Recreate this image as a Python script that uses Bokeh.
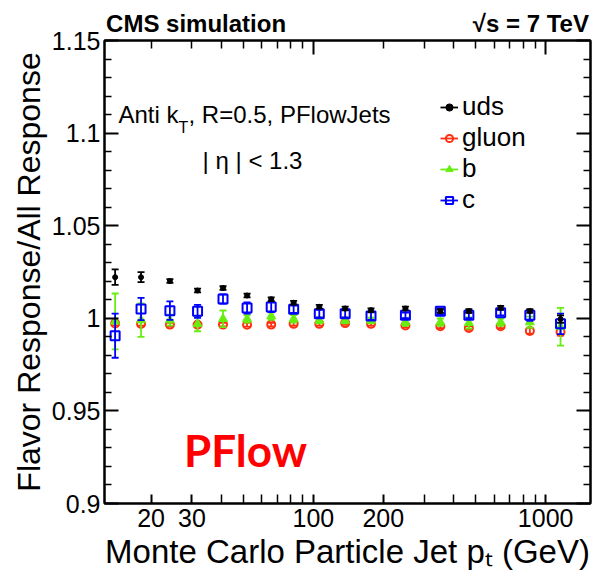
from bokeh.plotting import figure
from bokeh.models import (Range1d, FixedTicker, LogAxis, LinearAxis, Label,
                          Legend, LegendItem, ColumnDataSource)
from bokeh.embed import file_html
from bokeh.resources import INLINE

# ---------------- data ----------------
pt = [14.0, 18.1, 24.1, 31.7, 40.8, 51.8, 65.8, 82.2, 106, 137, 177, 249, 352, 467, 640, 855, 1159]

uds = [1.0222, 1.0222, 1.0201, 1.0150, 1.0163, 1.0123, 1.0103, 1.0084, 1.0062, 1.0053,
       1.0044, 1.0053, 1.0039, 1.0039, 1.0057, 1.0039, 0.9996]
uds_err = [0.0042, 0.0027, 0.001, 0.001, 0.001, 0.001, 0.001, 0.001, 0.001, 0.001,
           0.001, 0.001, 0.001, 0.001, 0.001, 0.001, 0.002]

gluon = [0.9972, 0.9970, 0.9966, 0.9965, 0.9966, 0.9965, 0.9966, 0.9970, 0.9970, 0.9974,
         0.9970, 0.9961, 0.9957, 0.9948, 0.9957, 0.9932, 0.9926]
gluon_err = [0.001, 0.001, 0.001, 0.001, 0.001, 0.001, 0.001, 0.001, 0.001, 0.001,
             0.001, 0.001, 0.001, 0.001, 0.001, 0.0015, 0.002]

bq = [0.9983, 0.9990, 0.9990, 0.9970, 0.9997, 0.9997, 1.0012, 0.9997, 0.9988, 0.9988,
      0.9988, 0.9979, 0.9979, 0.9975, 0.9979, 0.9979, 0.9954]
bq_err = [0.0151, 0.009, 0.003, 0.004, 0.0045, 0.002, 0.002, 0.002, 0.0015, 0.0015,
          0.0015, 0.002, 0.002, 0.003, 0.002, 0.003, 0.0102]

cq = [0.9906, 1.0050, 1.0041, 1.0038, 1.0104, 1.0056, 1.0061, 1.0049, 1.0025, 1.0025,
      1.0012, 1.0016, 1.0038, 1.0016, 1.0030, 1.0016, 0.9970]
cq_err = [0.0119, 0.006, 0.005, 0.0035, 0.0025, 0.003, 0.0027, 0.002, 0.002, 0.002,
          0.002, 0.0015, 0.0015, 0.0015, 0.0015, 0.003, 0.0055]

series_names = ["uds", "gluon", "b", "c"]
x_major = [20, 30, 100, 200, 1000]
x_minor = [40, 50, 60, 70, 80, 90, 300, 400, 500, 600, 700, 800, 900]
y_major = [0.9, 0.95, 1.0, 1.05, 1.1, 1.15]
y_minor = [0.91, 0.92, 0.93, 0.94, 0.96, 0.97, 0.98, 0.99, 1.01, 1.02, 1.03, 1.04,
           1.06, 1.07, 1.08, 1.09, 1.11, 1.12, 1.13, 1.14]
y_labels = {0.9: "0.9", 0.95: "0.95", 1.0: "1", 1.05: "1.05", 1.1: "1.1", 1.15: "1.15"}

FONT = "Liberation Sans"
NBSP = "\u00a0"

p = figure(width=604, height=580, x_axis_type="log",
           x_range=Range1d(12.6, 1560), y_range=Range1d(0.9, 1.15),
           output_backend="svg", toolbar_location=None,
           min_border_left=104, min_border_right=14, min_border_top=40, min_border_bottom=77)
p.grid.visible = False
p.outline_line_color = "black"
p.outline_line_width = 2
p.background_fill_color = "white"
p.border_fill_color = "white"


def style_axis(ax, major_in, minor_in, labels=True):
    ax.axis_line_width = 2
    ax.major_tick_line_width = 2
    ax.minor_tick_line_width = 1.5
    ax.major_tick_in = major_in
    ax.major_tick_out = 0
    ax.minor_tick_in = minor_in
    ax.minor_tick_out = 0
    ax.axis_label_text_color = "black"
    if labels:
        ax.major_label_text_font = FONT
        ax.major_label_text_font_size = "25px"
        ax.major_label_text_color = "black"
    else:
        ax.major_label_text_font_size = "0px"
        ax.major_label_text_alpha = 0
        ax.major_label_standoff = 0


# bottom axis
xb = p.xaxis[0]
xb.ticker = FixedTicker(ticks=x_major, minor_ticks=x_minor)
style_axis(xb, 9, 9)
xb.major_label_standoff = 5
xb.major_label_overrides = {20: "20", 30: "30", 100: "100", 200: "200", 1000: "1000"}
xb.axis_label = "Monte Carlo Particle Jet p\u209c (GeV)"
xb.axis_label_text_font = FONT
xb.axis_label_text_font_size = "33px"
xb.axis_label_text_font_style = "normal"
xb.axis_label_standoff = 3

# left axis
yl = p.yaxis[0]
yl.ticker = FixedTicker(ticks=y_major, minor_ticks=y_minor)
style_axis(yl, 14, 7)
yl.major_label_standoff = 4
yl.major_label_overrides = y_labels
yl.axis_label = "Flavor Response/All Response"
yl.axis_label_text_font = FONT
yl.axis_label_text_font_size = "32px"
yl.axis_label_text_font_style = "normal"
yl.axis_label_standoff = 2

# mirror axes (top carries the header line)
xt = LogAxis(ticker=FixedTicker(ticks=[100, 1000], minor_ticks=[20, 30] + x_minor + [200]))
style_axis(xt, 14, 8, labels=False)
xt.axis_label = "CMS simulation" + NBSP * 28 + "\u221as = 7 TeV"
xt.axis_label_text_font = FONT
xt.axis_label_text_font_size = "24px"
xt.axis_label_text_font_style = "bold"
xt.axis_label_standoff = 4
p.add_layout(xt, "above")
yr = LinearAxis(ticker=FixedTicker(ticks=y_major, minor_ticks=y_minor))
style_axis(yr, 14, 7, labels=False)
p.add_layout(yr, "right")


def draw_series(vals, errs, color, marker, size, fill, lw, cap=7):
    lo = [v - e for v, e in zip(vals, errs)]
    hi = [v + e for v, e in zip(vals, errs)]
    src = ColumnDataSource(dict(x=pt, y=vals, lo=lo, hi=hi))
    seg = p.segment(x0="x", y0="lo", x1="x", y1="hi", source=src,
                    line_color=color, line_width=1.8)
    p.scatter(x="x", y="lo", marker="dash", size=cap, line_color=color, line_width=1.8, source=src)
    p.scatter(x="x", y="hi", marker="dash", size=cap, line_color=color, line_width=1.8, source=src)
    m = p.scatter(x="x", y="y", marker=marker, size=size, line_color=color,
                  fill_color=fill, line_width=lw, source=src)
    return seg, m


RED = "#ff3010"
GREEN = "#66ee11"
BLUE = "#0000ff"

g_seg, g_m = draw_series(gluon, gluon_err, RED, "circle", 8, None, 2)
b_seg, b_m = draw_series(bq, bq_err, GREEN, "triangle", 9, GREEN, 1)
c_seg, c_m = draw_series(cq, cq_err, BLUE, "square", 9, None, 2)
u_seg, u_m = draw_series(uds, uds_err, "black", "circle", 5, "black", 1)

legend = Legend(items=[
    LegendItem(label=series_names[0], renderers=[u_seg, u_m]),
    LegendItem(label=series_names[1], renderers=[g_seg, g_m]),
    LegendItem(label=series_names[2], renderers=[b_seg, b_m]),
    LegendItem(label=series_names[3], renderers=[c_seg, c_m]),
], location=(336, 288))
legend.label_text_font = FONT
legend.label_text_font_size = "26px"
legend.label_text_color = "black"
legend.glyph_width = 18
legend.glyph_height = 20
legend.label_height = 20
legend.spacing = 0
legend.padding = 0
legend.margin = 0
legend.label_standoff = 4
legend.border_line_alpha = 0
legend.background_fill_alpha = 0
p.add_layout(legend, "center")


def lab(text, x, y, size, align="left", bold=False, color="black", font=FONT):
    p.add_layout(Label(x=x, y=y, x_units="screen", y_units="screen", text=text,
                       text_font=font, text_font_size=size, text_align=align,
                       text_baseline="middle", text_color=color,
                       text_font_style="bold" if bold else "normal"))


# annotation text inside the frame
lab("Anti k", 14, 389, "24px")
lab("T", 74, 376, "16px")
lab(", R=0.5, PFlowJets", 84, 389, "24px")
lab("| \u03b7 | < 1.3", 148, 343, "24px", align="center")

lab("PFlow", 141, 54, "44px", align="center", bold=True, color="#ff0000", font="Lato")

open("out.html", "w").write(file_html(p, INLINE))
